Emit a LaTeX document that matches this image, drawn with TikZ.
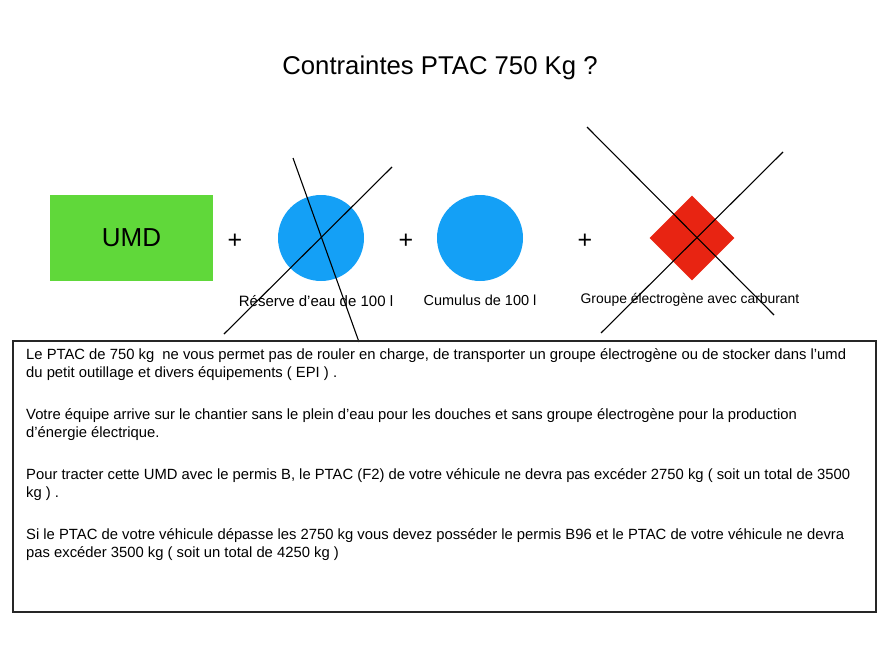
\documentclass[tikz,border=0pt]{standalone}
\usepackage{fontspec}
\setmainfont{Liberation Sans}
\definecolor{umdgreen}{RGB}{96,216,58}
\definecolor{tankblue}{RGB}{20,160,246}
\definecolor{genred}{RGB}{232,36,18}
\tikzset{
  crossline/.style={black, line width=1.1pt},
  lbl/.style={font=\fontsize{14.5}{17}\selectfont, inner sep=0pt},
  plus/.style={font=\fontsize{25}{28}\selectfont, inner sep=0pt},
  para/.style={font=\fontsize{14.8}{18}\selectfont, align=left, anchor=north west, inner sep=0pt},
}
\begin{document}
\begin{tikzpicture}[x=1pt,y=-1pt]
\useasboundingbox (0,0) rectangle (886,664);
\node[font=\fontsize{25.7}{30}\selectfont, inner sep=0pt] (title) at (440,68) {Contraintes PTAC 750 Kg ?};
% UMD box
\node[fill=umdgreen, minimum width=163pt, minimum height=86pt, inner sep=0pt, font=\fontsize{26}{30}\selectfont] (umd) at (131.5,238) {UMD};
\node[plus] (p1) at (235,241) {+};
\node[circle, fill=tankblue, minimum size=86pt, inner sep=0pt] (res) at (321,238) {};
\node[plus] (p2) at (406,241) {+};
\node[circle, fill=tankblue, minimum size=86pt, inner sep=0pt] (cum) at (480,238) {};
\node[plus] (p3) at (585,241) {+};
\node[fill=genred, minimum size=60pt, inner sep=0pt, rotate=45] (gen) at (692,238) {};
% labels
\node[lbl, font=\fontsize{15}{17}\selectfont] (lres) at (316,301) {Réserve d’eau de 100 l};
\node[lbl] (lcum) at (480,300) {Cumulus de 100 l};
\node[lbl, font=\fontsize{13.9}{17}\selectfont] (lgen) at (690,300) {Groupe électrogène avec carburant};
% crosses
\coordinate (a1) at (293,158); \coordinate (a2) at (359,342);
\coordinate (b1) at (392,167); \coordinate (b2) at (224,334);
\draw[crossline] (a1) -- (a2);
\draw[crossline] (b1) -- (b2);
\coordinate (c1) at (587,127); \coordinate (c2) at (774,315);
\coordinate (d1) at (783,152); \coordinate (d2) at (601,333);
\draw[crossline] (c1) -- (c2);
\draw[crossline] (d1) -- (d2);
% text box
\node[draw=black!85, line width=1.5pt, minimum width=863pt, minimum height=271pt, anchor=north west, inner sep=0pt] (box) at (12,340) {};
\node[para] (t1) at (26,348) {Le PTAC de 750 kg \ ne vous permet pas de rouler en charge, de transporter un groupe électrogène ou de stocker dans l’umd\\du petit outillage et divers équipements ( EPI ) .};
\node[para] (t2) at (26,408) {Votre équipe arrive sur le chantier sans le plein d’eau pour les douches et sans groupe électrogène pour la production\\d’énergie électrique.};
\node[para] (t3) at (26,468) {Pour tracter cette UMD avec le permis B, le PTAC (F2) de votre véhicule ne devra pas excéder 2750 kg ( soit un total de 3500\\kg ) .};
\node[para] (t4) at (26,528) {Si le PTAC de votre véhicule dépasse les 2750 kg vous devez posséder le permis B96 et le PTAC de votre véhicule ne devra\\pas excéder 3500 kg ( soit un total de 4250 kg )};
\end{tikzpicture}
\end{document}
